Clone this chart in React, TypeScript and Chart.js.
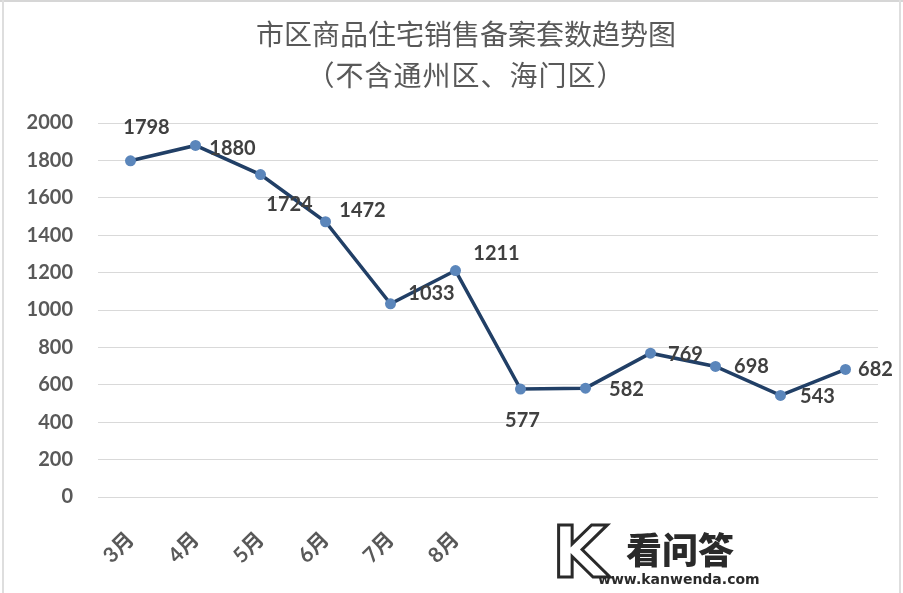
import React, { useEffect, useRef } from "react";
import { Chart, registerables } from "chart.js";

Chart.register(...registerables);

// ---- data ----
const TITLE_LINES = ["市区商品住宅销售备案套数趋势图", "（不含通州区、海门区）"];
const MONTHS = ["3月", "4月", "5月", "6月", "7月", "8月", "", "", "", "", "", ""];
const SALES = [1798, 1880, 1724, 1472, 1033, 1211, 577, 582, 769, 698, 543, 682];
const Y_MIN = 0;
const Y_MAX = 2000;
const Y_STEP = 200;

// label placement relative to each point (dx, dy in px)
const LABEL_OFFSETS: [number, number][] = [
  [16, -33], [37, 3], [29, 30], [37, -11], [41, -10], [41, -17],
  [2, 31], [41, 1], [35, 1], [36, 0], [37, 1], [30, 0],
];

const TEXT_FONT = "Lato, 'Noto Sans CJK SC', sans-serif";

const titlePlugin = {
  id: "cnTitle",
  afterDraw(chart: any) {
    const ctx = chart.ctx as CanvasRenderingContext2D;
    ctx.save();
    ctx.fillStyle = "#595959";
    ctx.textAlign = "center";
    ctx.textBaseline = "middle";
    ctx.font = "normal 28px 'Noto Sans CJK SC', sans-serif";
    (ctx as any).letterSpacing = "0px";
    ctx.fillText(TITLE_LINES[0], 466, 34);
    (ctx as any).letterSpacing = "1px";
    ctx.fillText(TITLE_LINES[1], 466, 75);
    ctx.restore();
  },
};

const labelPlugin = {
  id: "pointLabels",
  afterDatasetsDraw(chart: any) {
    const ctx = chart.ctx as CanvasRenderingContext2D;
    const meta = chart.getDatasetMeta(0);
    ctx.save();
    ctx.fillStyle = "#404040";
    ctx.textAlign = "center";
    ctx.textBaseline = "middle";
    ctx.font = `bold 20px ${TEXT_FONT}`;
    meta.data.forEach((pt: any, i: number) => {
      const [dx, dy] = LABEL_OFFSETS[i] || [0, -20];
      ctx.fillText(String(SALES[i]), pt.x + dx, pt.y + dy);
    });
    ctx.restore();
  },
};

export default function App() {
  const ref = useRef<HTMLCanvasElement | null>(null);

  useEffect(() => {
    if (!ref.current) return;
    const chart = new Chart(ref.current, {
      type: "line",
      data: {
        labels: MONTHS,
        datasets: [
          {
            data: SALES,
            borderColor: "#213f66",
            borderWidth: 3.5,
            pointBackgroundColor: "#5b86bb",
            pointBorderColor: "#5b86bb",
            pointRadius: 5.5,
            pointBorderWidth: 0,
            tension: 0,
            fill: false,
          },
        ],
      },
      options: {
        responsive: false,
        animation: false,
        events: [],
        layout: { padding: { top: 123, right: 25, left: 0, bottom: 0 } },
        plugins: {
          legend: { display: false },
          title: { display: false },
          tooltip: { enabled: false },
        },
        scales: {
          x: {
            offset: true,
            grid: { display: false, drawTicks: false },
            border: { display: false },
            ticks: {
              autoSkip: false,
              minRotation: 45,
              maxRotation: 45,
              padding: 30,
              color: "#595959",
              font: { family: TEXT_FONT, size: 21, weight: "bold" },
            },
            afterFit: (scale: any) => {
              scale.height = 96;
            },
          },
          y: {
            min: Y_MIN,
            max: Y_MAX,
            grid: { color: "#d9d9d9", lineWidth: 1, drawTicks: false },
            border: { display: false },
            ticks: {
              stepSize: Y_STEP,
              padding: 25,
              color: "#595959",
              font: { family: TEXT_FONT, size: 20, weight: "bold" },
              callback: (v: any) => String(v),
            },
            afterFit: (scale: any) => {
              scale.width = 98;
            },
          },
        },
      },
      plugins: [titlePlugin, labelPlugin],
    });
    return () => chart.destroy();
  }, []);

  return (
    <div
      style={{
        position: "fixed",
        left: 0,
        top: 0,
        width: 903,
        height: 593,
        background: "#ffffff",
        overflow: "hidden",
      }}
    >
      <canvas ref={ref} width={903} height={593} style={{ display: "block" }} />
      <div style={{ position: "absolute", left: 0, top: 0, width: 903, height: 2, background: "#d6d6d6" }} />
      <div style={{ position: "absolute", left: 2, top: 0, width: 2, height: 593, background: "#dedede" }} />
      <div style={{ position: "absolute", left: 899, top: 0, width: 2, height: 593, background: "#dedede" }} />
      <div
        style={{
          position: "absolute",
          left: 552,
          top: 516,
          fontFamily: "'DejaVu Sans', sans-serif",
          fontWeight: "bold",
          fontSize: 72,
          lineHeight: "72px",
          color: "#ffffff",
          WebkitTextStroke: "3px #2a2a2a",
        }}
      >
        K
      </div>
      <div
        style={{
          position: "absolute",
          left: 626,
          top: 526,
          fontFamily: "'Noto Sans CJK SC', sans-serif",
          fontWeight: 900,
          fontSize: 36,
          lineHeight: "44px",
          color: "#2a2a2a",
          letterSpacing: 0,
        }}
      >
        看问答
      </div>
      <div
        style={{
          position: "absolute",
          left: 598,
          top: 570,
          fontFamily: "'DejaVu Sans', sans-serif",
          fontWeight: "bold",
          fontSize: 14,
          lineHeight: "18px",
          color: "#2a2a2a",
        }}
      >
        www.kanwenda.com
      </div>
    </div>
  );
}
